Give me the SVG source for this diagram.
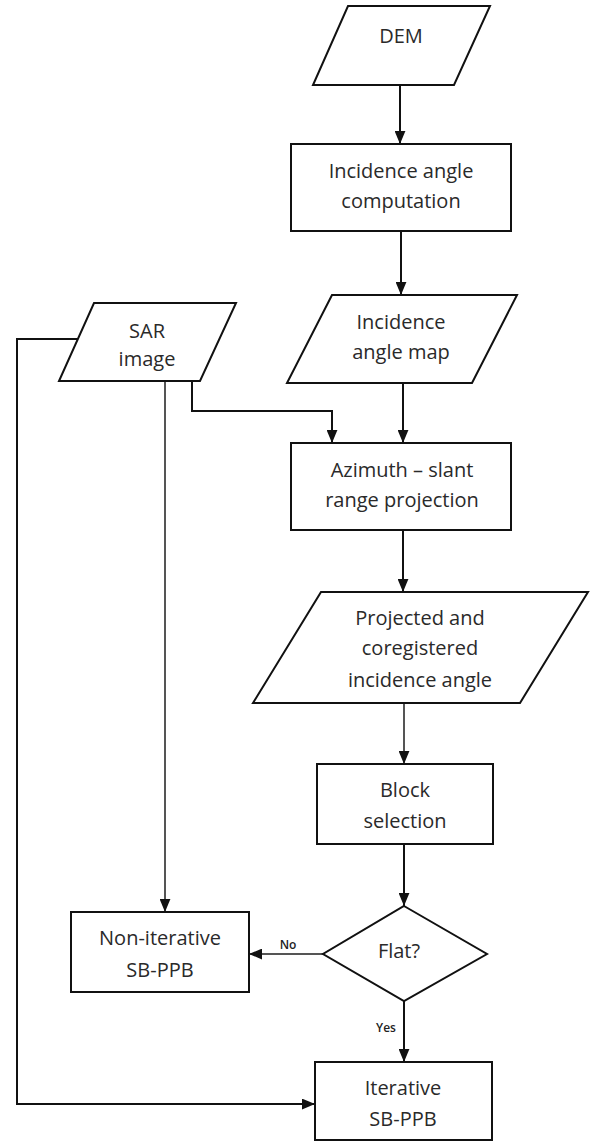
<svg xmlns="http://www.w3.org/2000/svg" width="597" height="1141" viewBox="0 0 597 1141">
<defs>
<style>
.shape{fill:#fff;stroke:#111;stroke-width:2}
.t{font-family:"Open Sans","Liberation Sans",sans-serif;font-size:20px;fill:#2a2a2a;text-anchor:middle}
.lbl{font-family:"Open Sans","Liberation Sans",sans-serif;font-size:12px;fill:#222;text-anchor:middle;font-weight:600}
.c{fill:none;stroke:#111;stroke-width:2}
.g{fill:none;stroke:#555;stroke-width:2}
</style>
<marker id="ah" viewBox="0 0 12 10" refX="12" refY="5" markerWidth="13" markerHeight="11" markerUnits="userSpaceOnUse" orient="auto">
<path d="M0,0 L12,5 L0,10 z" fill="#111"/>
</marker>
</defs>
<rect width="597" height="1141" fill="#fff"/>
<g id="connectors">
<path class="c" d="M400,85 V144" marker-end="url(#ah)"/>
<path class="c" d="M401,231 V295" marker-end="url(#ah)"/>
<path class="c" d="M403,383 V443" marker-end="url(#ah)"/>
<path class="c" d="M403,530 V592" marker-end="url(#ah)"/>
<path class="g" d="M404,703 V764" marker-end="url(#ah)"/>
<path class="c" d="M404,844 V906" marker-end="url(#ah)"/>
<path class="g" d="M323,954 H249" marker-end="url(#ah)"/>
<path class="c" d="M404,1001 V1062" marker-end="url(#ah)"/>
<path class="c" d="M78,339 H17 V1104 H315" marker-end="url(#ah)"/>
<path class="g" d="M165,381 V912" marker-end="url(#ah)"/>
<path class="c" d="M192,381 V411 H332 V443" marker-end="url(#ah)"/>
<text class="lbl" x="288" y="949">No</text>
<text class="lbl" x="386" y="1032">Yes</text>
</g>
<g id="dem">
<polygon class="shape" points="348,6 490,6 454,85 313,85"/>
<text class="t" x="401" y="43">DEM</text>
</g>
<g id="incidence-computation">
<rect class="shape" x="291" y="144" width="220" height="87"/>
<text class="t" x="401" y="178">Incidence angle</text>
<text class="t" x="401" y="208">computation</text>
</g>
<g id="sar-image">
<polygon class="shape" points="94,303 236,303 200,381 59,381"/>
<text class="t" x="147" y="338">SAR</text>
<text class="t" x="147" y="366">image</text>
</g>
<g id="incidence-map">
<polygon class="shape" points="332,295 517,295 472,383 287,383"/>
<text class="t" x="401" y="329">Incidence</text>
<text class="t" x="401" y="359">angle map</text>
</g>
<g id="azimuth">
<rect class="shape" x="291" y="443" width="220" height="87"/>
<text class="t" x="402" y="477">Azimuth – slant</text>
<text class="t" x="402" y="507">range projection</text>
</g>
<g id="projected">
<polygon class="shape" points="321,592 588,592 520,703 253,703"/>
<text class="t" x="420" y="625">Projected and</text>
<text class="t" x="420" y="655">coregistered</text>
<text class="t" x="420" y="687">incidence angle</text>
</g>
<g id="block">
<rect class="shape" x="317" y="764" width="176" height="80"/>
<text class="t" x="405" y="797">Block</text>
<text class="t" x="405" y="828">selection</text>
</g>
<g id="flat">
<polygon class="shape" points="404,906 487,954 404,1001 323,954"/>
<text class="t" x="399" y="958">Flat?</text>
</g>
<g id="non-iterative">
<rect class="shape" x="71" y="912" width="178" height="80"/>
<text class="t" x="160" y="945">Non-iterative</text>
<text class="t" x="160" y="977">SB-PPB</text>
</g>
<g id="iterative">
<rect class="shape" x="315" y="1062" width="177" height="78"/>
<text class="t" x="403" y="1095">Iterative</text>
<text class="t" x="403" y="1126">SB-PPB</text>
</g>
</svg>
